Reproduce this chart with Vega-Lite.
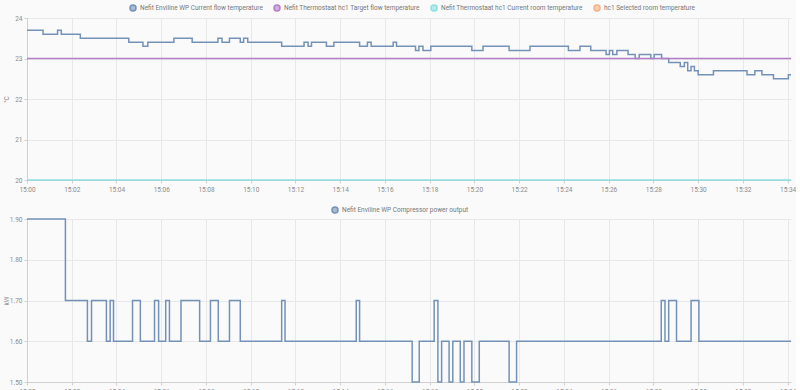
{
  "$schema": "https://vega.github.io/schema/vega-lite/v6.json",
  "background": "#fafafa",
  "padding": {"left": 3, "top": 4, "right": 0, "bottom": 0},
  "spacing": 13,
  "config": {
    "font": "Roboto",
    "view": {"stroke": null},
    "axis": {"labelFontSize": 6.5, "labelColor": "#8a8a8a", "gridColor": "#e8e8e8", "domainColor": "#d0d0d0", "tickColor": "#d0d0d0", "tickSize": 3, "labelPadding": 2, "titleFontSize": 6.5, "titleColor": "#8a8a8a", "titleFontWeight": "normal"},
    "legend": {"labelFontSize": 6.5, "labelColor": "#777777", "symbolSize": 36, "symbolType": "circle", "labelOffset": 3, "columnPadding": 8, "padding": 0}
  },
  "resolve": {"scale": {"color": "independent"}},
  "datasets": {
    "temps": [
      {"time": "2024-01-01T15:00:00Z", "series": "Nefit Enviline WP Current flow temperature", "value": 23.7},
      {"time": "2024-01-01T15:00:43Z", "series": "Nefit Enviline WP Current flow temperature", "value": 23.6},
      {"time": "2024-01-01T15:01:22Z", "series": "Nefit Enviline WP Current flow temperature", "value": 23.7},
      {"time": "2024-01-01T15:01:32Z", "series": "Nefit Enviline WP Current flow temperature", "value": 23.6},
      {"time": "2024-01-01T15:02:23Z", "series": "Nefit Enviline WP Current flow temperature", "value": 23.5},
      {"time": "2024-01-01T15:04:33Z", "series": "Nefit Enviline WP Current flow temperature", "value": 23.4},
      {"time": "2024-01-01T15:05:11Z", "series": "Nefit Enviline WP Current flow temperature", "value": 23.3},
      {"time": "2024-01-01T15:05:24Z", "series": "Nefit Enviline WP Current flow temperature", "value": 23.4},
      {"time": "2024-01-01T15:06:34Z", "series": "Nefit Enviline WP Current flow temperature", "value": 23.5},
      {"time": "2024-01-01T15:07:23Z", "series": "Nefit Enviline WP Current flow temperature", "value": 23.4},
      {"time": "2024-01-01T15:08:32Z", "series": "Nefit Enviline WP Current flow temperature", "value": 23.5},
      {"time": "2024-01-01T15:08:43Z", "series": "Nefit Enviline WP Current flow temperature", "value": 23.4},
      {"time": "2024-01-01T15:09:03Z", "series": "Nefit Enviline WP Current flow temperature", "value": 23.5},
      {"time": "2024-01-01T15:09:32Z", "series": "Nefit Enviline WP Current flow temperature", "value": 23.4},
      {"time": "2024-01-01T15:09:41Z", "series": "Nefit Enviline WP Current flow temperature", "value": 23.5},
      {"time": "2024-01-01T15:09:52Z", "series": "Nefit Enviline WP Current flow temperature", "value": 23.4},
      {"time": "2024-01-01T15:11:23Z", "series": "Nefit Enviline WP Current flow temperature", "value": 23.3},
      {"time": "2024-01-01T15:12:23Z", "series": "Nefit Enviline WP Current flow temperature", "value": 23.4},
      {"time": "2024-01-01T15:12:34Z", "series": "Nefit Enviline WP Current flow temperature", "value": 23.3},
      {"time": "2024-01-01T15:12:43Z", "series": "Nefit Enviline WP Current flow temperature", "value": 23.4},
      {"time": "2024-01-01T15:13:23Z", "series": "Nefit Enviline WP Current flow temperature", "value": 23.3},
      {"time": "2024-01-01T15:13:43Z", "series": "Nefit Enviline WP Current flow temperature", "value": 23.4},
      {"time": "2024-01-01T15:14:52Z", "series": "Nefit Enviline WP Current flow temperature", "value": 23.3},
      {"time": "2024-01-01T15:15:13Z", "series": "Nefit Enviline WP Current flow temperature", "value": 23.4},
      {"time": "2024-01-01T15:15:23Z", "series": "Nefit Enviline WP Current flow temperature", "value": 23.3},
      {"time": "2024-01-01T15:16:22Z", "series": "Nefit Enviline WP Current flow temperature", "value": 23.4},
      {"time": "2024-01-01T15:16:31Z", "series": "Nefit Enviline WP Current flow temperature", "value": 23.3},
      {"time": "2024-01-01T15:17:22Z", "series": "Nefit Enviline WP Current flow temperature", "value": 23.2},
      {"time": "2024-01-01T15:17:31Z", "series": "Nefit Enviline WP Current flow temperature", "value": 23.3},
      {"time": "2024-01-01T15:17:42Z", "series": "Nefit Enviline WP Current flow temperature", "value": 23.2},
      {"time": "2024-01-01T15:18:03Z", "series": "Nefit Enviline WP Current flow temperature", "value": 23.3},
      {"time": "2024-01-01T15:19:53Z", "series": "Nefit Enviline WP Current flow temperature", "value": 23.2},
      {"time": "2024-01-01T15:20:23Z", "series": "Nefit Enviline WP Current flow temperature", "value": 23.3},
      {"time": "2024-01-01T15:21:33Z", "series": "Nefit Enviline WP Current flow temperature", "value": 23.2},
      {"time": "2024-01-01T15:22:29Z", "series": "Nefit Enviline WP Current flow temperature", "value": 23.3},
      {"time": "2024-01-01T15:24:12Z", "series": "Nefit Enviline WP Current flow temperature", "value": 23.2},
      {"time": "2024-01-01T15:24:43Z", "series": "Nefit Enviline WP Current flow temperature", "value": 23.3},
      {"time": "2024-01-01T15:25:12Z", "series": "Nefit Enviline WP Current flow temperature", "value": 23.2},
      {"time": "2024-01-01T15:25:53Z", "series": "Nefit Enviline WP Current flow temperature", "value": 23.1},
      {"time": "2024-01-01T15:26:02Z", "series": "Nefit Enviline WP Current flow temperature", "value": 23.2},
      {"time": "2024-01-01T15:26:11Z", "series": "Nefit Enviline WP Current flow temperature", "value": 23.1},
      {"time": "2024-01-01T15:26:22Z", "series": "Nefit Enviline WP Current flow temperature", "value": 23.2},
      {"time": "2024-01-01T15:26:52Z", "series": "Nefit Enviline WP Current flow temperature", "value": 23.1},
      {"time": "2024-01-01T15:27:11Z", "series": "Nefit Enviline WP Current flow temperature", "value": 23.0},
      {"time": "2024-01-01T15:27:22Z", "series": "Nefit Enviline WP Current flow temperature", "value": 23.1},
      {"time": "2024-01-01T15:27:53Z", "series": "Nefit Enviline WP Current flow temperature", "value": 23.0},
      {"time": "2024-01-01T15:28:02Z", "series": "Nefit Enviline WP Current flow temperature", "value": 23.1},
      {"time": "2024-01-01T15:28:22Z", "series": "Nefit Enviline WP Current flow temperature", "value": 23.0},
      {"time": "2024-01-01T15:28:41Z", "series": "Nefit Enviline WP Current flow temperature", "value": 22.9},
      {"time": "2024-01-01T15:29:12Z", "series": "Nefit Enviline WP Current flow temperature", "value": 22.8},
      {"time": "2024-01-01T15:29:23Z", "series": "Nefit Enviline WP Current flow temperature", "value": 22.9},
      {"time": "2024-01-01T15:29:32Z", "series": "Nefit Enviline WP Current flow temperature", "value": 22.7},
      {"time": "2024-01-01T15:29:41Z", "series": "Nefit Enviline WP Current flow temperature", "value": 22.8},
      {"time": "2024-01-01T15:29:50Z", "series": "Nefit Enviline WP Current flow temperature", "value": 22.7},
      {"time": "2024-01-01T15:30:00Z", "series": "Nefit Enviline WP Current flow temperature", "value": 22.6},
      {"time": "2024-01-01T15:30:41Z", "series": "Nefit Enviline WP Current flow temperature", "value": 22.7},
      {"time": "2024-01-01T15:32:11Z", "series": "Nefit Enviline WP Current flow temperature", "value": 22.6},
      {"time": "2024-01-01T15:32:32Z", "series": "Nefit Enviline WP Current flow temperature", "value": 22.7},
      {"time": "2024-01-01T15:32:51Z", "series": "Nefit Enviline WP Current flow temperature", "value": 22.6},
      {"time": "2024-01-01T15:33:22Z", "series": "Nefit Enviline WP Current flow temperature", "value": 22.5},
      {"time": "2024-01-01T15:34:02Z", "series": "Nefit Enviline WP Current flow temperature", "value": 22.6},
      {"time": "2024-01-01T15:34:09Z", "series": "Nefit Enviline WP Current flow temperature", "value": 22.6},
      {"time": "2024-01-01T15:00:00Z", "series": "Nefit Thermostaat hc1 Target flow temperature", "value": 23.0},
      {"time": "2024-01-01T15:34:09Z", "series": "Nefit Thermostaat hc1 Target flow temperature", "value": 23.0},
      {"time": "2024-01-01T15:00:00Z", "series": "Nefit Thermostaat hc1 Current room temperature", "value": 20.0},
      {"time": "2024-01-01T15:34:09Z", "series": "Nefit Thermostaat hc1 Current room temperature", "value": 20.0}
    ],
    "power": [
      {"time": "2024-01-01T15:00:00Z", "series": "Nefit Enviline WP Compressor power output", "value": 1.9},
      {"time": "2024-01-01T15:01:43Z", "series": "Nefit Enviline WP Compressor power output", "value": 1.7},
      {"time": "2024-01-01T15:02:42Z", "series": "Nefit Enviline WP Compressor power output", "value": 1.6},
      {"time": "2024-01-01T15:02:53Z", "series": "Nefit Enviline WP Compressor power output", "value": 1.7},
      {"time": "2024-01-01T15:03:33Z", "series": "Nefit Enviline WP Compressor power output", "value": 1.6},
      {"time": "2024-01-01T15:03:43Z", "series": "Nefit Enviline WP Compressor power output", "value": 1.7},
      {"time": "2024-01-01T15:03:52Z", "series": "Nefit Enviline WP Compressor power output", "value": 1.6},
      {"time": "2024-01-01T15:04:43Z", "series": "Nefit Enviline WP Compressor power output", "value": 1.7},
      {"time": "2024-01-01T15:05:04Z", "series": "Nefit Enviline WP Compressor power output", "value": 1.6},
      {"time": "2024-01-01T15:05:42Z", "series": "Nefit Enviline WP Compressor power output", "value": 1.7},
      {"time": "2024-01-01T15:05:53Z", "series": "Nefit Enviline WP Compressor power output", "value": 1.6},
      {"time": "2024-01-01T15:06:12Z", "series": "Nefit Enviline WP Compressor power output", "value": 1.7},
      {"time": "2024-01-01T15:06:22Z", "series": "Nefit Enviline WP Compressor power output", "value": 1.6},
      {"time": "2024-01-01T15:06:53Z", "series": "Nefit Enviline WP Compressor power output", "value": 1.7},
      {"time": "2024-01-01T15:07:43Z", "series": "Nefit Enviline WP Compressor power output", "value": 1.6},
      {"time": "2024-01-01T15:08:12Z", "series": "Nefit Enviline WP Compressor power output", "value": 1.7},
      {"time": "2024-01-01T15:08:33Z", "series": "Nefit Enviline WP Compressor power output", "value": 1.6},
      {"time": "2024-01-01T15:09:03Z", "series": "Nefit Enviline WP Compressor power output", "value": 1.7},
      {"time": "2024-01-01T15:09:32Z", "series": "Nefit Enviline WP Compressor power output", "value": 1.6},
      {"time": "2024-01-01T15:11:23Z", "series": "Nefit Enviline WP Compressor power output", "value": 1.7},
      {"time": "2024-01-01T15:11:32Z", "series": "Nefit Enviline WP Compressor power output", "value": 1.6},
      {"time": "2024-01-01T15:14:43Z", "series": "Nefit Enviline WP Compressor power output", "value": 1.7},
      {"time": "2024-01-01T15:14:52Z", "series": "Nefit Enviline WP Compressor power output", "value": 1.6},
      {"time": "2024-01-01T15:17:13Z", "series": "Nefit Enviline WP Compressor power output", "value": 1.5},
      {"time": "2024-01-01T15:17:32Z", "series": "Nefit Enviline WP Compressor power output", "value": 1.6},
      {"time": "2024-01-01T15:18:12Z", "series": "Nefit Enviline WP Compressor power output", "value": 1.7},
      {"time": "2024-01-01T15:18:22Z", "series": "Nefit Enviline WP Compressor power output", "value": 1.5},
      {"time": "2024-01-01T15:18:32Z", "series": "Nefit Enviline WP Compressor power output", "value": 1.6},
      {"time": "2024-01-01T15:18:52Z", "series": "Nefit Enviline WP Compressor power output", "value": 1.5},
      {"time": "2024-01-01T15:19:02Z", "series": "Nefit Enviline WP Compressor power output", "value": 1.6},
      {"time": "2024-01-01T15:19:22Z", "series": "Nefit Enviline WP Compressor power output", "value": 1.5},
      {"time": "2024-01-01T15:19:32Z", "series": "Nefit Enviline WP Compressor power output", "value": 1.6},
      {"time": "2024-01-01T15:19:53Z", "series": "Nefit Enviline WP Compressor power output", "value": 1.5},
      {"time": "2024-01-01T15:20:13Z", "series": "Nefit Enviline WP Compressor power output", "value": 1.6},
      {"time": "2024-01-01T15:21:33Z", "series": "Nefit Enviline WP Compressor power output", "value": 1.5},
      {"time": "2024-01-01T15:21:53Z", "series": "Nefit Enviline WP Compressor power output", "value": 1.6},
      {"time": "2024-01-01T15:28:21Z", "series": "Nefit Enviline WP Compressor power output", "value": 1.7},
      {"time": "2024-01-01T15:28:31Z", "series": "Nefit Enviline WP Compressor power output", "value": 1.6},
      {"time": "2024-01-01T15:28:41Z", "series": "Nefit Enviline WP Compressor power output", "value": 1.7},
      {"time": "2024-01-01T15:29:02Z", "series": "Nefit Enviline WP Compressor power output", "value": 1.6},
      {"time": "2024-01-01T15:29:41Z", "series": "Nefit Enviline WP Compressor power output", "value": 1.7},
      {"time": "2024-01-01T15:30:02Z", "series": "Nefit Enviline WP Compressor power output", "value": 1.6},
      {"time": "2024-01-01T15:34:09Z", "series": "Nefit Enviline WP Compressor power output", "value": 1.6}
    ]
  },
  "vconcat": [
    {
      "width": 764,
      "height": 162,
      "data": {"name": "temps"},
      "mark": {"type": "line", "interpolate": "step-after", "strokeWidth": 1.5},
      "encoding": {
        "x": {"field": "time", "type": "temporal", "title": null, "scale": {"type": "utc", "nice": false},
          "axis": {"format": "%H:%M", "labelFlush": false, "labelPadding": 3,
            "values": [1704121200000, 1704121320000, 1704121440000, 1704121560000, 1704121680000, 1704121800000, 1704121920000, 1704122040000, 1704122160000, 1704122280000, 1704122400000, 1704122520000, 1704122640000, 1704122760000, 1704122880000, 1704123000000, 1704123120000, 1704123240000]}},
        "y": {"field": "value", "type": "quantitative", "title": "°C",
          "scale": {"domain": [20, 24], "nice": false, "zero": false},
          "axis": {"tickCount": 4, "minExtent": 18, "maxExtent": 18, "titlePadding": 0}},
        "color": {"field": "series", "type": "nominal",
          "scale": {"domain": ["Nefit Enviline WP Current flow temperature", "Nefit Thermostaat hc1 Target flow temperature", "Nefit Thermostaat hc1 Current room temperature", "hc1 Selected room temperature"], "range": ["#7492b8", "#b47fc7", "#8ddfe2", "#f5b183"]},
          "legend": {"title": null, "orient": "none", "direction": "horizontal", "legendX": 102, "legendY": -14,
            "encode": {"symbols": {"update": {"fill": {"field": "value", "scale": "concat_0_color"}, "fillOpacity": {"value": 0.6}}}}}}
      }
    },
    {
      "width": 764,
      "height": 163,
      "data": {"name": "power"},
      "mark": {"type": "line", "interpolate": "step-after", "strokeWidth": 1.5},
      "encoding": {
        "x": {"field": "time", "type": "temporal", "title": null, "scale": {"type": "utc", "nice": false},
          "axis": {"format": "%H:%M", "labelFlush": false, "labelPadding": 3,
            "values": [1704121200000, 1704121320000, 1704121440000, 1704121560000, 1704121680000, 1704121800000, 1704121920000, 1704122040000, 1704122160000, 1704122280000, 1704122400000, 1704122520000, 1704122640000, 1704122760000, 1704122880000, 1704123000000, 1704123120000, 1704123240000]}},
        "y": {"field": "value", "type": "quantitative", "title": "kW",
          "scale": {"domain": [1.5, 1.9], "nice": false, "zero": false},
          "axis": {"format": ".2f", "values": [1.5, 1.6, 1.7, 1.8, 1.9], "minExtent": 18, "maxExtent": 18, "titlePadding": 0}},
        "color": {"field": "series", "type": "nominal",
          "scale": {"range": ["#7492b8"]},
          "legend": {"title": null, "orient": "none", "direction": "horizontal", "legendX": 304, "legendY": -13,
            "symbolFillColor": "#a9bbd2"}}
      }
    }
  ]
}
